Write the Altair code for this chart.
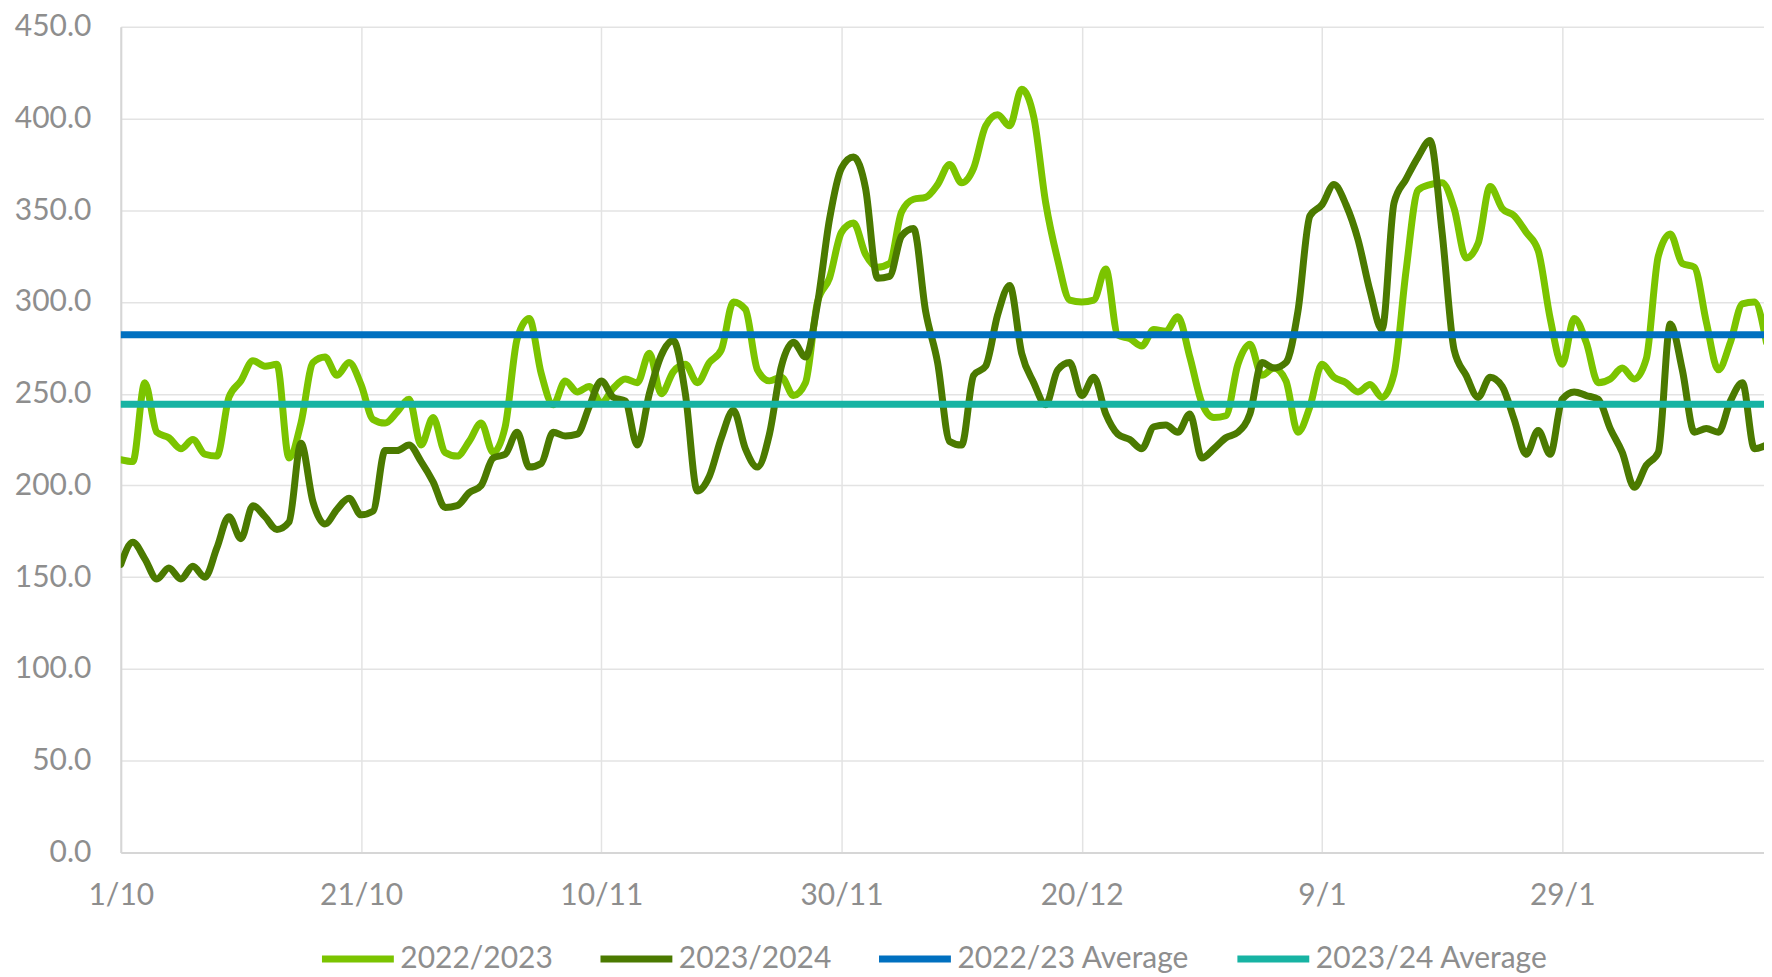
import json
import altair as alt
import pandas as pd

# ---------------- data ----------------
series_names = ["2022/2023", "2023/2024", "2022/23 Average", "2023/24 Average"]
series_colors = ["#7BC400", "#4B7A00", "#0070C0", "#17B3A3"]

# daily values from 1 Oct (day 0) to 15 Feb (day 137)
values_2022_2023 = [
    214, 213, 256, 229, 226, 220, 225, 217, 216, 248,
    257, 268, 265, 266, 215, 234, 267, 270, 260, 267,
    255, 236, 234, 240, 247, 222, 237, 218, 216, 224,
    234, 218, 232, 280, 291, 261, 244, 257, 251, 254,
    245, 253, 258, 256, 272, 250, 262, 266, 256, 267,
    274, 300, 296, 263, 257, 259, 249, 256, 300, 313,
    338, 343, 326, 319, 321, 349, 356, 357, 364, 375,
    365, 373, 396, 402, 396, 416, 401, 354, 323, 301,
    300, 301, 318, 282, 280, 276, 285, 284, 292, 270,
    245, 237, 238, 266, 277, 260, 264, 257, 229, 243,
    266, 259, 256, 251, 255, 248, 261, 317, 361, 364,
    365, 351, 324, 332, 363, 351, 347, 338, 328, 291,
    266, 291, 278, 256, 258, 264, 258, 269, 325, 337,
    321, 319, 289, 263, 278, 299, 300, 278,
]
values_2023_2024 = [
    157, 169, 160, 149, 155, 149, 156, 150, 166, 183,
    171, 189, 183, 176, 180, 223, 191, 179, 187, 193,
    184, 186, 219, 219, 222, 213, 202, 188, 189, 196,
    200, 215, 217, 229, 210, 212, 229, 227, 228, 243,
    257, 248, 246, 222, 250, 271, 279, 250, 197, 205,
    226, 241, 220, 210, 228, 265, 278, 270, 299, 345,
    373, 379, 362, 313, 314, 336, 340, 295, 267, 224,
    222, 260, 265, 293, 309, 272, 256, 244, 263, 267,
    249, 259, 239, 228, 225, 220, 232, 233, 229, 239,
    215, 220, 226, 229, 239, 267, 264, 267, 295, 347,
    353, 364, 353, 334, 306, 285, 354, 367, 379, 388,
    338, 274, 260, 248, 259, 254, 236, 217, 230, 217,
    247, 251, 249, 247, 231, 218, 199, 211, 218, 288,
    263, 229, 231, 229, 246, 256, 220, 222,
]
average_2022_23 = 282.2
average_2023_24 = 244.3

x_tick_days = [0, 20, 40, 60, 80, 100, 120]
x_tick_labels = ["1/10", "21/10", "10/11", "30/11", "20/12", "9/1", "29/1"]
y_ticks = [0, 50, 100, 150, 200, 250, 300, 350, 400, 450]

X_MAX = 136.8

# ---------------- table ----------------
rows = []
for d, v in enumerate(values_2022_2023):
    rows.append({"day": d, "value": v, "series": series_names[0]})
for d, v in enumerate(values_2023_2024):
    rows.append({"day": d, "value": v, "series": series_names[1]})
for d in (0, X_MAX):
    rows.append({"day": d, "value": average_2022_23, "series": series_names[2]})
    rows.append({"day": d, "value": average_2023_24, "series": series_names[3]})
df = pd.DataFrame(rows)

FONT = "Lato"
GREY = "#8E8E8E"
FS = 30

label_expr = json.dumps(x_tick_labels) + "[round(datum.value / 20)]"

color = alt.Color(
    "series:N",
    scale=alt.Scale(domain=series_names, range=series_colors),
    legend=alt.Legend(
        title=None,
        orient="none",
        legendX=198,
        legendY=894,
        direction="horizontal",
        columns=4,
        symbolType="stroke",
        symbolSize=5184,
        symbolStrokeWidth=7,
        labelFont=FONT,
        labelFontSize=FS,
        labelColor=GREY,
        labelOffset=3,
        labelLimit=0,
        columnPadding=33,
    ),
)

base = alt.Chart(df).encode(
    x=alt.X(
        "day:Q",
        scale=alt.Scale(domain=[0, X_MAX], nice=False, zero=False),
        axis=alt.Axis(
            title=None,
            values=x_tick_days,
            labelExpr=label_expr,
            ticks=False,
            tickSize=0,
            labelPadding=28,
            labelFlush=False,
            grid=True,
        ),
    ),
    y=alt.Y(
        "value:Q",
        scale=alt.Scale(domain=[0, 450], nice=False),
        axis=alt.Axis(
            title=None,
            values=y_ticks,
            format=".1f",
            ticks=False,
            tickSize=0,
            labelPadding=30,
            labelFlush=False,
            grid=True,
        ),
    ),
    color=color,
)

layers = []
for i, name in enumerate(series_names):
    mark = base.transform_filter(alt.datum.series == name).mark_line(
        interpolate="monotone" if i < 2 else "linear",
        strokeWidth=7,
        strokeCap="round",
        strokeJoin="round",
        clip=True,
    )
    layers.append(mark)

chart = (
    alt.layer(*layers)
    .properties(
        width=1646,
        height=827,
        padding={"left": 6, "top": 3, "right": 0, "bottom": 0},
    )
    .configure_view(stroke=None)
    .configure_axis(
        labelFont=FONT,
        labelFontSize=FS,
        labelColor=GREY,
        gridColor="#E3E3E3",
        gridWidth=1.5,
        domainColor="#D6D6D6",
        domainWidth=2,
    )
)

chart.save("out.html", embed_options={"renderer": "svg", "actions": False})
